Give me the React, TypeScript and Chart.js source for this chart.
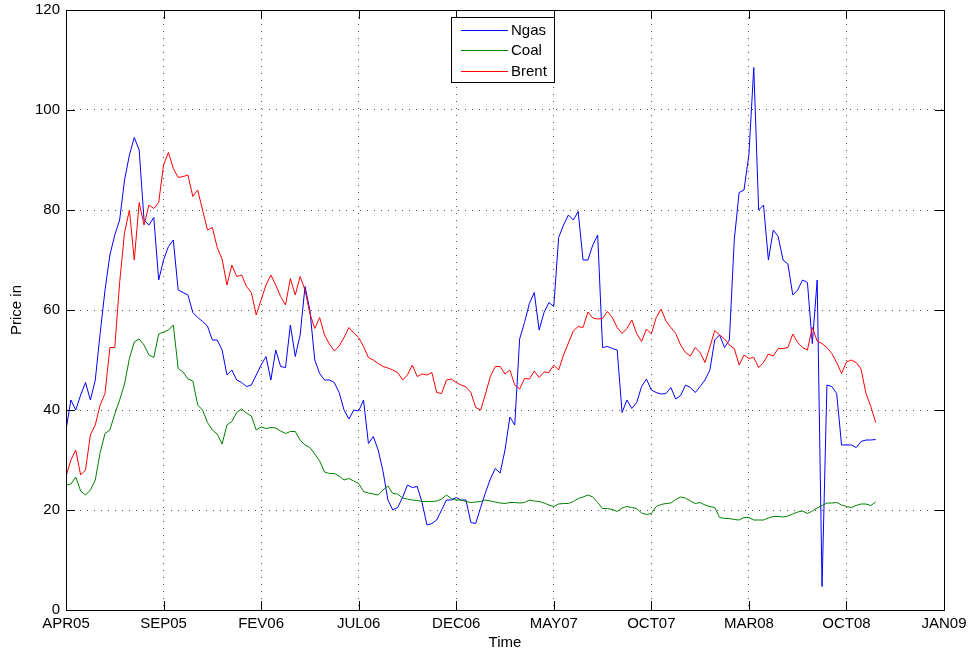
import React, { useEffect, useRef } from 'react';
import { Chart, registerables } from 'chart.js';

Chart.register(...registerables);

// x position of each value: index * STEP_MONTHS months after APR05
const STEP_MONTHS = 0.25;
const MONTH_SPAN = 45;
const TICK_STEP_MONTHS = 5;

const tickLabels = ['APR05', 'SEP05', 'FEV06', 'JUL06', 'DEC06', 'MAY07', 'OCT07', 'MAR08', 'OCT08', 'JAN09'];
const seriesNames = ['Ngas', 'Coal', 'Brent'];
const seriesColors = ['#0000ff', '#008000', '#ff0000'];

const ngas = [
  36, 42, 40, 43, 45.5, 42, 46, 55.3, 64, 71,
  75, 78, 86, 91, 94.5, 92, 78, 77, 78.5, 66,
  70, 72.7, 74, 64, 63.5, 63, 59.5, 58.5, 57.7, 56.8,
  54, 54, 52, 47, 48, 46, 45.5, 44.7, 45, 47,
  49, 50.7, 46, 52, 48.7, 48.5, 57, 50.7, 55, 64.7,
  60, 50, 47.3, 46, 46, 45.5, 43.5, 40, 38.2, 40,
  39.8, 42, 33.3, 34.7, 32, 27.7, 22, 20, 20.5, 22.5,
  25, 24.5, 24.7, 21.5, 17, 17.3, 18, 20, 22, 22,
  22.5, 22, 22, 17.5, 17.3, 20.5, 23.5, 26.2, 28.3, 27.4,
  32, 38.6, 37, 54.2, 57.5, 61.3, 63.5, 56, 59.5, 61.5,
  60.7, 74.5, 77, 79, 78, 79.7, 70, 70, 73, 75,
  52.5, 52.7, 52.3, 52, 39.5, 42, 40.3, 41.5, 44.7, 46.2,
  44, 43.5, 43.2, 43.3, 44.5, 42.2, 42.9, 45, 44.5, 43.5,
  44.7, 46, 48, 54, 55, 52.5, 54, 74, 83.5, 84,
  91, 108.5, 80, 81, 70, 76, 74.7, 70, 69.2, 63,
  64, 66, 65.5, 53.3, 66, 4.7, 45, 44.7, 43.3, 33,
  33, 33, 32.5, 33.7, 34, 34, 34.1,
];

const coal = [
  25, 25.2, 26.6, 23.8, 23, 24, 26, 31.5, 35.3, 36,
  39.2, 42, 45.2, 50.3, 53.6, 54.2, 53, 51, 50.5, 55.2,
  55.6, 56, 57, 48.3, 47.6, 46.2, 45.8, 41, 40, 37.5,
  36, 35.2, 33.2, 37, 37.7, 39.5, 40.2, 39.4, 38.8, 36,
  36.6, 36.3, 36.5, 36.4, 35.8, 35.3, 35.7, 35.7, 34, 33,
  32.5, 31.2, 29.8, 27.6, 27.3, 27.3, 26.8, 26, 26.3, 25.8,
  25.3, 23.7, 23.4, 23.2, 23, 24, 24.8, 23.3, 23.2, 22.4,
  22.2, 22, 21.9, 21.7, 21.7, 21.7, 21.8, 22.2, 23, 22.3,
  22, 22, 21.7, 21.5, 21.6, 21.7, 22, 21.8, 21.6, 21.4,
  21.3, 21.5, 21.5, 21.4, 21.5, 22, 21.8, 21.7, 21.4, 21,
  20.7, 21.2, 21.3, 21.3, 21.7, 22.3, 22.6, 23, 22.6, 21.5,
  20.3, 20.3, 20.1, 19.7, 20.4, 20.7, 20.5, 20.3, 19.4, 19.1,
  19.3, 20.7, 21.1, 21.3, 21.4, 22.1, 22.6, 22.4, 21.8, 21.3,
  21.5, 21, 20.7, 20.5, 18.5, 18.3, 18.3, 18.1, 18, 18.5,
  18.5, 18, 18, 18, 18.4, 18.7, 18.7, 18.6, 18.8, 19.2,
  19.6, 19.8, 19.3, 19.8, 20.4, 20.9, 21.4, 21.4, 21.5, 21,
  20.7, 20.5, 20.9, 21.2, 21.2, 20.9, 21.6,
];

const brent = [
  26.7, 30, 32, 27, 28, 35, 37, 41, 43.3, 52.5,
  52.5, 65.5, 75.5, 80, 70, 81.5, 77, 81, 80.3, 81.5,
  89, 91.5, 88.3, 86.5, 86.7, 87, 82.7, 84, 80, 76,
  76.5, 72.5, 70.2, 65, 69, 66.7, 67, 64.7, 63.5, 59,
  62, 65, 67, 65, 62.7, 61, 66.3, 63, 66.7, 64,
  59.3, 56.3, 58.5, 55, 53.2, 51.8, 52.8, 54.5, 56.5, 55.4,
  54.5, 52.7, 50.5, 50, 49.3, 48.7, 48.4, 48, 47.5, 46,
  47, 49, 46.7, 47.2, 47, 47.5, 43.5, 43.3, 46, 46.2,
  45.5, 45, 44.6, 43.5, 40.5, 40, 43.2, 46.7, 48.7, 48.7,
  47.2, 48, 45, 44.2, 46.3, 46.2, 47.8, 46.5, 47.6, 47.5,
  49, 48, 51, 53.4, 55.8, 56.7, 56.5, 59.6, 58.4, 58.2,
  58.3, 59.7, 58.5, 56.5, 55.3, 56.3, 58, 55.3, 53.7, 56.2,
  55.2, 58.5, 60.2, 57.8, 56.5, 55.3, 53, 51.5, 50.8, 52.5,
  51.5, 49.5, 52.6, 55.9, 55, 54.2, 53, 52.3, 49, 51,
  50.3, 50.5, 48.5, 49.5, 51.2, 50.8, 52.3, 52.3, 52.5, 55.2,
  53.5, 52.5, 52, 56.5, 53.8, 53.3, 52.5, 51.3, 49.5, 47.3,
  49.6, 50, 49.5, 48.2, 43.3, 40.7, 37.5,
];

const FONT = "'Liberation Sans', Arial, Helvetica, sans-serif";

const toPoints = (vals: number[]) => vals.map((v, i) => ({ x: i * STEP_MONTHS, y: v }));

const framePlugin = {
  id: 'matlabFrame',
  afterDatasetsDraw(chart: any) {
    const { ctx, chartArea: a, scales } = chart;
    const xs = scales.x;
    const ys = scales.y;
    const L = 9;
    ctx.save();
    ctx.strokeStyle = '#000';
    ctx.lineWidth = 1;
    ctx.setLineDash([]);
    ctx.beginPath();
    xs.ticks.forEach((t: any) => {
      const px = Math.round(xs.getPixelForValue(t.value)) + 0.5;
      ctx.moveTo(px, a.bottom);
      ctx.lineTo(px, a.bottom - L);
      ctx.moveTo(px, a.top);
      ctx.lineTo(px, a.top + L);
    });
    ys.ticks.forEach((t: any) => {
      const py = Math.round(ys.getPixelForValue(t.value)) + 0.5;
      ctx.moveTo(a.left, py);
      ctx.lineTo(a.left + L, py);
      ctx.moveTo(a.right, py);
      ctx.lineTo(a.right - L, py);
    });
    ctx.stroke();
    ctx.strokeRect(Math.round(a.left) + 0.5, Math.round(a.top) + 0.5, Math.round(a.right - a.left), Math.round(a.bottom - a.top));
    ctx.restore();
  },
  afterDraw(chart: any) {
    const { ctx, chartArea: a } = chart;
    const bw = 103;
    const bh = 65;
    const bx = Math.round((a.left + a.right) / 2 - 54);
    const by = Math.round(a.top + 7);
    ctx.save();
    ctx.fillStyle = '#fff';
    ctx.fillRect(bx, by, bw, bh);
    ctx.strokeStyle = '#000';
    ctx.lineWidth = 1;
    ctx.strokeRect(bx + 0.5, by + 0.5, bw, bh);
    ctx.font = `15px ${FONT}`;
    ctx.textBaseline = 'middle';
    ctx.textAlign = 'left';
    chart.data.datasets.forEach((ds: any, k: number) => {
      const cy = Math.round(by + 13 + k * 20.4) + 0.5;
      ctx.strokeStyle = ds.borderColor;
      ctx.beginPath();
      ctx.moveTo(bx + 10, cy);
      ctx.lineTo(bx + 57, cy);
      ctx.stroke();
      ctx.fillStyle = '#000';
      ctx.fillText(ds.label, bx + 60, cy);
    });
    ctx.restore();
  },
};

export default function App() {
  const canvasRef = useRef<HTMLCanvasElement | null>(null);

  useEffect(() => {
    document.body.style.margin = '0';
    const canvas = canvasRef.current;
    if (!canvas) return;
    const values = [ngas, coal, brent];
    const chart = new Chart(canvas, {
      type: 'line',
      data: {
        datasets: values.map((vals, k) => ({
          label: seriesNames[k],
          data: toPoints(vals),
          borderColor: seriesColors[k],
          backgroundColor: seriesColors[k],
          borderWidth: 1,
          pointRadius: 0,
          pointHoverRadius: 0,
          tension: 0,
          fill: false,
          order: 2 - k,
        })),
      },
      options: {
        animation: false,
        responsive: false,
        maintainAspectRatio: false,
        events: [],
        layout: { padding: { left: 0, right: 27, top: 10, bottom: 0 } },
        plugins: {
          legend: { display: false },
          tooltip: { enabled: false },
        },
        scales: {
          x: {
            type: 'linear',
            min: 0,
            max: MONTH_SPAN,
            afterFit: (s: any) => {
              s.height = 45;
              s.paddingLeft = 0;
              s.paddingRight = 0;
              s.paddingTop = 0;
              s.paddingBottom = 0;
            },
            ticks: {
              stepSize: TICK_STEP_MONTHS,
              autoSkip: false,
              maxRotation: 0,
              padding: 5,
              color: '#000',
              font: { family: FONT, size: 15 },
              callback: (v: any) => tickLabels[Math.round(Number(v) / TICK_STEP_MONTHS)] ?? '',
            },
            grid: { color: '#555', lineWidth: 1, drawTicks: false },
            border: { display: false, dash: [1, 6] },
            title: {
              display: true,
              text: 'Time',
              color: '#000',
              font: { family: FONT, size: 15 },
              padding: { top: 0, bottom: 3 },
            },
          },
          y: {
            type: 'linear',
            min: 0,
            max: 120,
            afterFit: (s: any) => {
              s.width = 66;
              s.paddingLeft = 0;
              s.paddingRight = 0;
              s.paddingTop = 0;
              s.paddingBottom = 0;
            },
            ticks: {
              stepSize: 20,
              padding: 6,
              color: '#000',
              font: { family: FONT, size: 15 },
            },
            grid: { color: '#555', lineWidth: 1, drawTicks: false },
            border: { display: false, dash: [1, 6] },
            title: {
              display: true,
              text: 'Price in',
              color: '#000',
              font: { family: FONT, size: 15 },
              padding: { top: 8, bottom: 0 },
            },
          },
        },
      },
      plugins: [framePlugin],
    } as any);
    return () => chart.destroy();
  }, []);

  return (
    <div style={{ position: 'absolute', left: 0, top: 0, width: 971, height: 655, background: '#fff' }}>
      <canvas ref={canvasRef} width={971} height={655} style={{ width: 971, height: 655, display: 'block' }} />
    </div>
  );
}
